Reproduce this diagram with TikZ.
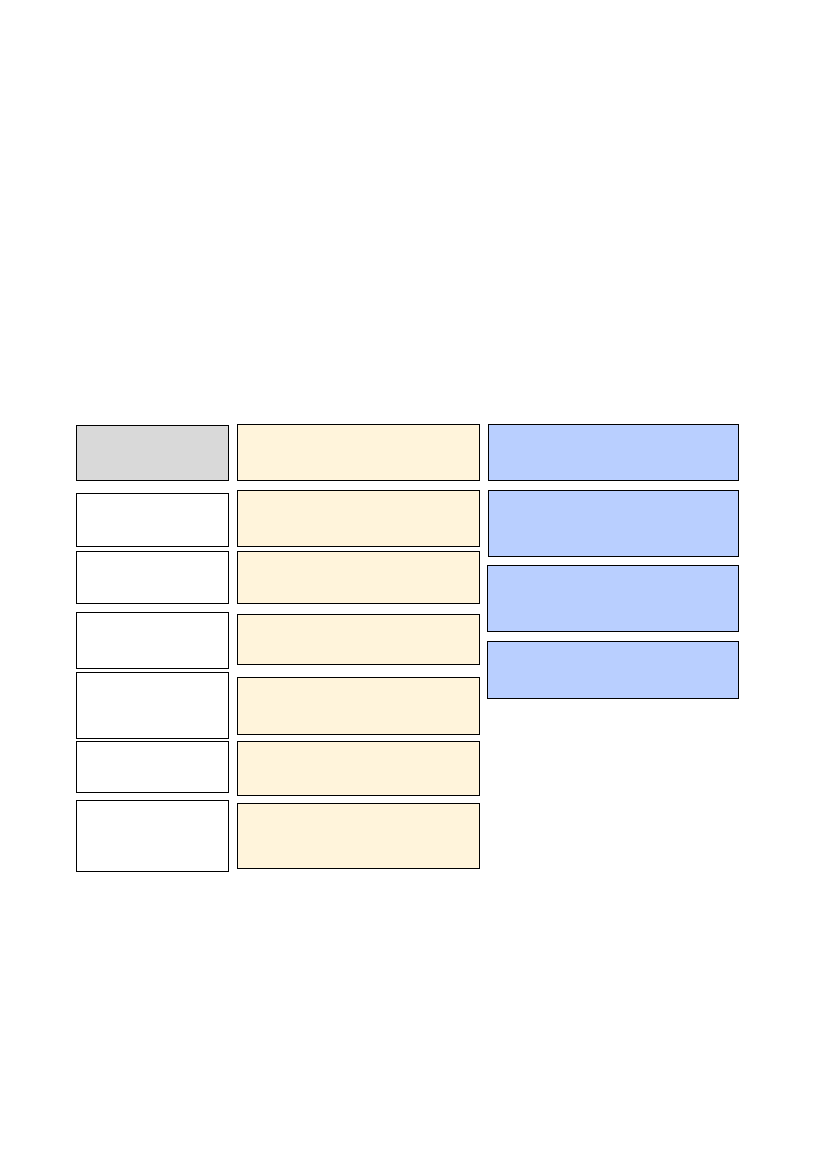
\documentclass[tikz,border=0pt]{standalone}
\usepackage{tikz}
\usetikzlibrary{calc}

\definecolor{boxgray}{RGB}{217,217,217}
\definecolor{boxyellow}{RGB}{255,244,219}
\definecolor{boxblue}{RGB}{185,207,255}

\begin{document}
\begin{tikzpicture} [x=0.025393cm, y=-0.025393cm, box/.style={draw=black, line width=.8pt}]
\useasboundingbox (0,0) rectangle (827,1169);

\draw[box, fill=boxgray] (76.3,425.3) rectangle (228.7,480.3);

\foreach \ya/\yb in {493.3/546.7, 551.3/603.3, 612.3/668.3, 672.3/738.3, 741.3/792.3, 800.3/871.3} \draw[box, fill=white] (76.3,\ya) rectangle (228.7,\yb);

\foreach \ya/\yb in {424.3/480.3, 490.3/546.7, 551.3/603.3, 614.3/664.3, 677.3/734.3, 741.3/795.3, 803.3/868.3} \draw[box, fill=boxyellow] (237.3,\ya) rectangle (479.7,\yb);

\foreach \xa/\ya/\yb in {488.3/424.3/480.3, 488.3/490.3/556.3, 487.3/565.3/631.3, 487.3/641.3/698.3} \draw[box, fill=boxblue] (\xa,\ya) rectangle (738.7,\yb);
\end{tikzpicture}
\end{document}
